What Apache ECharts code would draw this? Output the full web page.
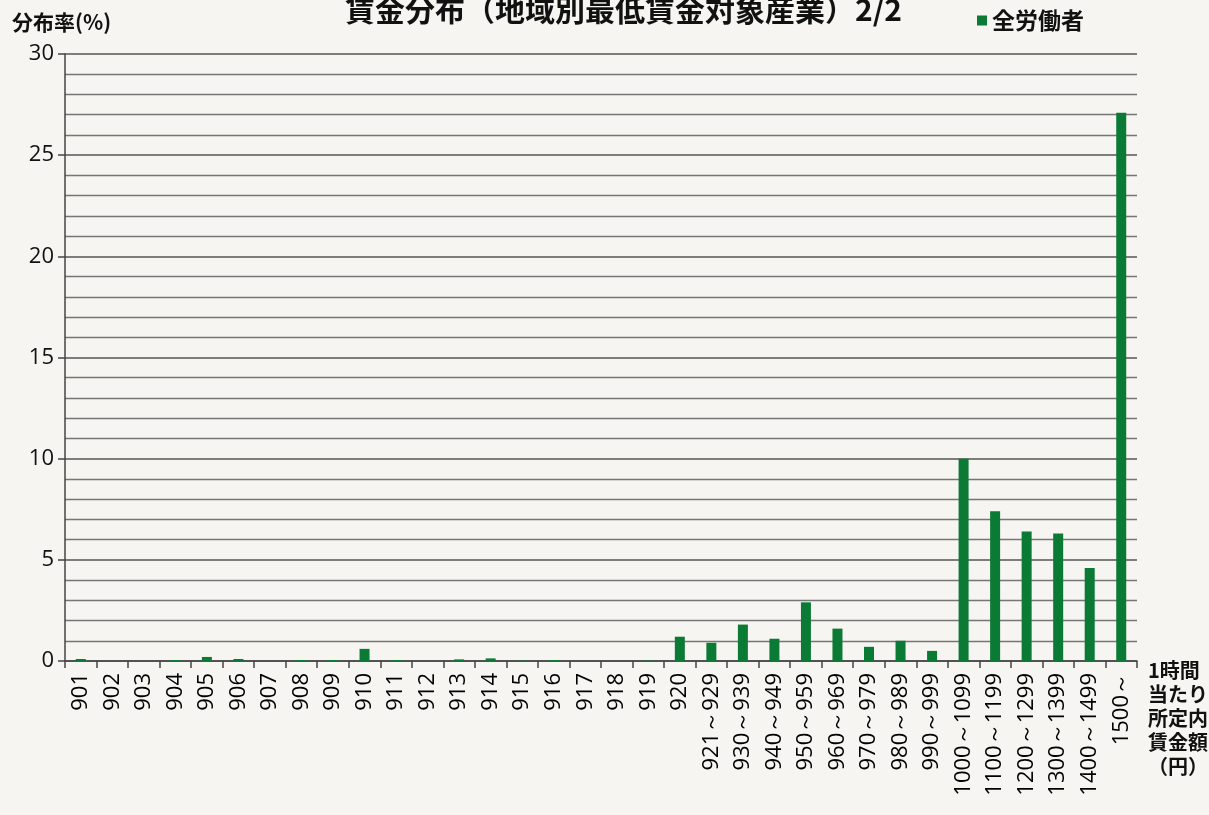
<!DOCTYPE html>
<html>
<head>
<meta charset="utf-8">
<title>賃金分布</title>
<script src="https://cdn.jsdelivr.net/npm/echarts@6/dist/echarts.min.js"></script>
<style>
  html, body { margin: 0; padding: 0; background: #f6f5f1; }
  #chart { width: 1209px; height: 815px; }
</style>
</head>
<body>
<div id="chart"></div>
<script>
// 1時間当たり所定内賃金額（円）の階級
const categories = [
  '901', '902', '903', '904', '905', '906', '907', '908', '909', '910',
  '911', '912', '913', '914', '915', '916', '917', '918', '919', '920',
  '921～929', '930～939', '940～949', '950～959', '960～969', '970～979',
  '980～989', '990～999', '1000～1099', '1100～1199', '1200～1299',
  '1300～1399', '1400～1499', '1500～'
];

// 全労働者の分布率（%）
const allWorkers = [
  0.1, 0, 0, 0.05, 0.2, 0.1, 0, 0.05, 0.05, 0.6,
  0.05, 0, 0.08, 0.13, 0.02, 0.05, 0, 0, 0.02, 1.2,
  0.9, 1.8, 1.1, 2.9, 1.6, 0.7,
  1.0, 0.5, 10.0, 7.4, 6.4,
  6.3, 4.6, 27.1
];

const yTicks = [0, 5, 10, 15, 20, 25, 30];

const seriesName = '全労働者';
const titleText = '賃金分布（地域別最低賃金対象産業）2/2';
const yAxisTitle = '分布率(%)';
const xAxisTitleLines = ['1時間', '当たり', '所定内', '賃金額', '（円）'];

const green = '#0b7a34';
const cjk = '"Noto Sans CJK JP", "Noto Sans", sans-serif';
const num = '"Open Sans", "Noto Sans", sans-serif';

const chart = echarts.init(document.getElementById('chart'));

chart.setOption({
  backgroundColor: '#f6f5f1',
  animation: false,
  grid: { left: 65, right: 72, top: 54, bottom: 154, containLabel: false },
  legend: {
    data: [seriesName],
    left: 972,
    top: 4,
    icon: 'rect',
    itemWidth: 10,
    itemHeight: 10,
    itemGap: 4,
    textStyle: { fontFamily: cjk, fontSize: 23, fontWeight: 'bold', color: '#111' }
  },
  xAxis: {
    type: 'category',
    data: categories,
    boundaryGap: true,
    axisLine: { lineStyle: { color: '#444', width: 1.5 } },
    axisTick: { show: true, length: 7, alignWithLabel: false, lineStyle: { color: '#444', width: 1.5 } },
    axisLabel: {
      rotate: 90,
      interval: 0,
      margin: 12,
      fontFamily: num,
      fontSize: 22,
      color: '#000'
    },
    splitLine: { show: false }
  },
  yAxis: {
    type: 'value',
    min: yTicks[0],
    max: yTicks[yTicks.length - 1],
    interval: 5,
    axisLine: { show: true, lineStyle: { color: '#444', width: 1.5 } },
    axisTick: { show: true, length: 7, lineStyle: { color: '#444', width: 1.5 } },
    axisLabel: { margin: 11, fontFamily: num, fontSize: 22, color: '#111' },
    splitLine: { show: true, lineStyle: { color: '#555', width: 1.6 } },
    minorTick: { show: false, splitNumber: 5 },
    minorSplitLine: { show: true, lineStyle: { color: '#767676', width: 1.3 } }
  },
  series: [{
    name: seriesName,
    type: 'bar',
    data: allWorkers,
    barWidth: 10,
    itemStyle: { color: green }
  }],
  graphic: [
    {
      type: 'text',
      left: 345,
      top: -5,
      style: {
        text: titleText,
        fontFamily: cjk,
        fontSize: 30,
        fontWeight: 'bold',
        fill: '#111'
      }
    },
    {
      type: 'text',
      left: 12,
      top: 12,
      style: {
        text: yAxisTitle,
        fontFamily: cjk,
        fontSize: 21,
        fontWeight: 'bold',
        fill: '#111'
      }
    },
    {
      type: 'text',
      left: 1148,
      top: 658,
      style: {
        text: xAxisTitleLines.join('\n'),
        fontFamily: cjk,
        fontSize: 20,
        fontWeight: 'bold',
        lineHeight: 24,
        align: 'center',
        fill: '#111'
      }
    }
  ]
});
</script>
</body>
</html>
